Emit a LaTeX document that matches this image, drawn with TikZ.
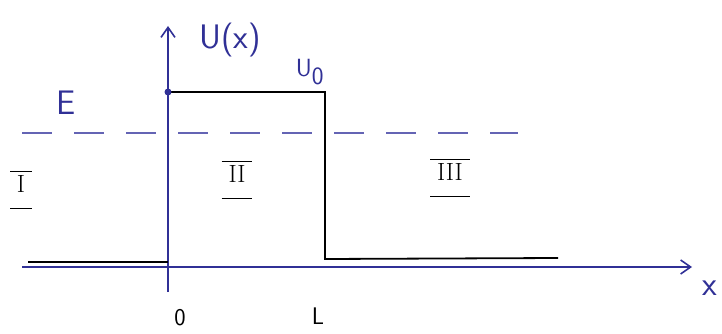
\documentclass[tikz,border=0pt]{standalone}
\usepackage{amsmath}
\usetikzlibrary{arrows.meta}
\definecolor{penblue}{RGB}{48,48,150}
\definecolor{lightpen}{RGB}{100,100,180}
\newcommand{\regionlabel}[1]{$\overline{\underline{\rule[-13pt]{0pt}{30pt}\;\mathrm{#1}\;}}$}
\begin{document}
\begin{tikzpicture}[x=1pt,y=-1pt,
  axis/.style={draw=penblue,line width=2.4pt,-{Straight Barb[length=10pt,width=14pt,line width=1.6pt]}},
  pot/.style={draw=black,line width=1.8pt},
  lbl/.style={text=penblue,font=\fontsize{34}{36}\selectfont\sffamily},
  roman/.style={text=black,inner sep=0pt,font=\fontsize{24}{26}\selectfont},
  tick/.style={text=black,font=\fontsize{24}{26}\selectfont\sffamily}]
\useasboundingbox (0,0) rectangle (722,334);
% axes
\coordinate (yb) at (168,292);
\coordinate (yt) at (168,26);
\coordinate (xl) at (22,267);
\coordinate (xr) at (692,267);
\draw[axis] (yb) -- (yt);
\draw[axis] (xl) -- (xr);
% potential
\coordinate (p0) at (28,262);
\coordinate (p1) at (168,262);
\coordinate (p2) at (168,92);
\coordinate (p3) at (325,92);
\coordinate (p4) at (325,259);
\coordinate (p5) at (558,258);
\draw[pot] (p0) -- (p1);
\draw[pot] (p2) -- (p3) -- (p4) -- (p5);
\fill[penblue] (p2) circle (3.5pt);
% energy
\coordinate (e0) at (22,133);
\coordinate (e1) at (518,133);
\draw[draw=lightpen,line width=1.6pt,dash pattern=on 30pt off 22pt] (e0) -- (e1);
% labels
\node[lbl] (ux) at (230,40) {U(x)};
\node[lbl] (u0) at (310,72) {$\mathsf{U}_{\mathsf{0}}$};
\node[lbl] (E) at (66,103) {E};
\node[lbl] (xlab) at (710,288) {x};
\node[roman] (r1) at (21,190) {\regionlabel{I}};
\node[roman] (r2) at (237,180) {\regionlabel{II}};
\node[roman] (r3) at (450,178) {\regionlabel{III}};
\node[tick] (o) at (180,318) {0};
\node[tick] (L) at (318,316) {L};
\end{tikzpicture}
\end{document}
